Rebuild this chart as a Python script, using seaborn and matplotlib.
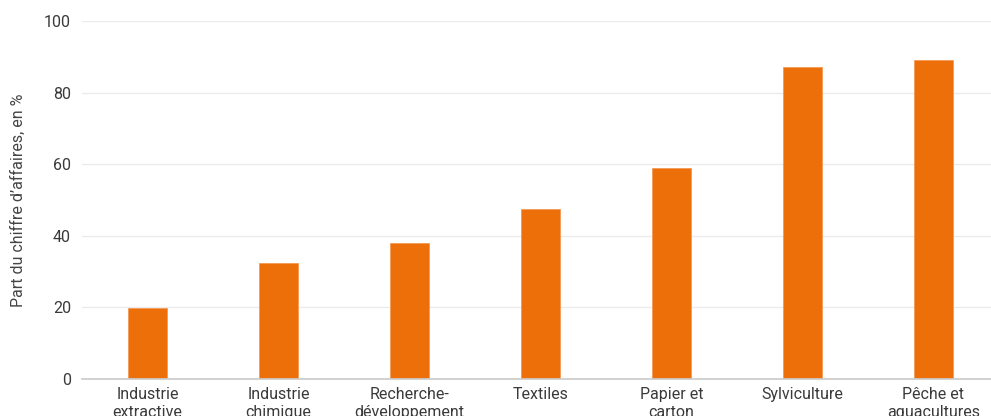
import matplotlib
matplotlib.use("Agg")
import matplotlib.pyplot as plt
import numpy as np
import pandas as pd
import seaborn as sns

# Data
categories = ["Industrie\nextractive", "Industrie\nchimique", "Recherche-\ndéveloppement",
              "Textiles", "Papier et\ncarton", "Sylviculture", "Pêche et\naquacultures"]
values = [19.8, 32.4, 38.0, 47.5, 58.9, 87.2, 89.1]
y_ticks = [0, 20, 40, 60, 80, 100]

df = pd.DataFrame({"secteur": categories, "part": values})

sns.set_theme(style="white")
plt.rcParams["font.family"] = ["Roboto", "DejaVu Sans"]

fig = plt.figure(figsize=(9.91, 4.16), dpi=100)
ax = fig.add_axes([0.0828, 0.0889, 0.925, 0.8606])

sns.barplot(data=df, x="secteur", y="part", color="#EC6F0A", width=0.3,
            saturation=1, edgecolor="#F39A55", linewidth=0.6, ax=ax, zorder=3)

ax.set_ylim(0, 100)
ax.set_yticks(y_ticks)
ax.set_xlim(-0.5, len(categories) - 0.5)
ax.grid(axis="y", color="#EBEBEB", linewidth=1, zorder=0)
ax.set_axisbelow(True)

for side in ["top", "right", "left"]:
    ax.spines[side].set_visible(False)
ax.spines["bottom"].set_color("#CCCCCC")
ax.spines["bottom"].set_zorder(4)

ax.tick_params(axis="y", length=0, labelsize=11.5, labelcolor="#3A3A3A", pad=8)
ax.tick_params(axis="x", which="major", length=0, labelsize=11.5, labelcolor="#3A3A3A", pad=6)
ax.set_xticks(np.arange(len(categories)) + 0.5, minor=True)
ax.tick_params(axis="x", which="minor", length=7, color="#CCCCCC", width=1)

ax.set_xlabel("")
ax.set_ylabel("Part du chiffre d’affaires, en %", fontsize=11.5, color="#444444", labelpad=13)

fig.savefig("out.png", dpi=100)
